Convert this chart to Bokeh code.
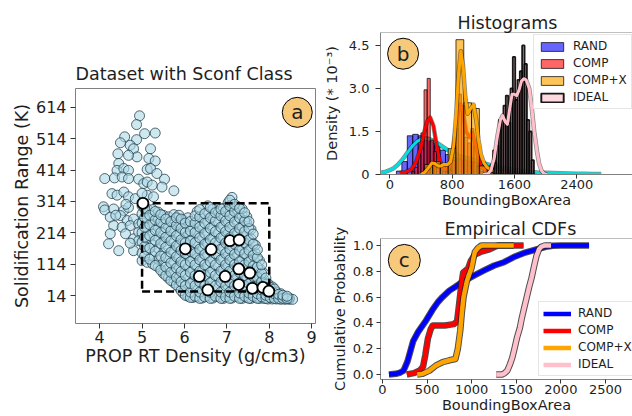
from bokeh.plotting import figure
from bokeh.layouts import row, column
from bokeh.models import FixedTicker, Legend, LegendItem, Span, PrintfTickFormatter
from bokeh.core.properties import value
from bokeh.embed import file_html
from bokeh.resources import INLINE

FONT = "DejaVu Sans"
TXT = "#1e1e1e"

# ---------------- Panel a data ----------------
left_x = [4.94, 4.87, 5.06, 5.31, 4.59, 4.87, 4.49, 4.72, 4.80, 4.43, 5.20, 4.88, 4.68, 5.16, 5.31,
          4.45, 4.41, 4.57, 4.68, 5.12, 5.20, 5.35, 4.12, 4.35, 4.53, 4.68, 4.92, 5.04, 5.12, 5.24,
          5.53, 5.75, 5.47, 4.29, 4.41, 4.57, 4.68, 4.84, 5.12, 5.27, 4.09, 4.12, 4.33, 4.57, 4.68,
          4.25, 4.49, 4.65, 4.80, 4.33, 4.53, 4.72, 4.92, 4.25, 4.61, 4.80, 4.92, 4.21, 4.45, 4.80,
          4.92, 4.72, 5.00, 4.62, 4.38]
left_y = [587, 559, 530, 532, 520, 511, 501, 493, 482, 466, 482, 456, 461, 451, 443,
          435, 413, 419, 413, 416, 419, 403, 387, 389, 392, 387, 385, 371, 376, 366,
          385, 348, 360, 339, 334, 344, 329, 323, 334, 329, 297, 287, 290, 285, 295,
          264, 269, 253, 258, 237, 232, 237, 242, 211, 211, 195, 216, 179, 157, 157,
          189, 181, 340, 305, 270]

col_x = [5.00, 5.12, 5.25, 5.38, 5.50, 5.62, 5.75, 5.87, 5.97, 6.08, 6.20, 6.30, 6.42, 6.55,
         6.67, 6.80, 6.92, 7.03, 7.12, 7.25, 7.36, 7.47, 7.57, 7.67, 7.77, 7.87, 7.97, 8.07,
         8.17, 8.27, 8.37, 8.47, 8.55]
col_ys = [
    [125, 150, 185, 215, 245, 275, 300],
    [120, 160, 195, 230, 262, 290],
    [115, 140, 175, 210, 240, 270, 288],
    [105, 130, 165, 200, 232, 260, 280],
    [85, 120, 150, 185, 215, 245, 270],
    [70, 100, 135, 170, 205, 235, 265],
    [55, 85, 120, 155, 190, 225, 255, 272],
    [40, 70, 105, 140, 175, 210, 245, 270],
    [22, 50, 85, 120, 155, 190, 225, 255],
    [12, 38, 70, 105, 140, 175, 205, 235, 262],
    [8, 30, 60, 95, 130, 160, 195, 230],
    [10, 42, 75, 110, 145, 180, 215, 250, 282],
    [6, 28, 58, 92, 125, 160, 195, 230, 262],
    [12, 40, 72, 108, 142, 178, 212, 248, 280, 300],
    [6, 30, 62, 95, 130, 165, 200, 235, 265, 290],
    [10, 42, 75, 110, 145, 180, 215, 250, 282],
    [5, 30, 62, 95, 130, 165, 200, 235, 268, 292],
    [12, 42, 75, 110, 145, 180, 215, 250, 285, 310],
    [6, 28, 60, 92, 125, 160, 195, 230, 265, 300, 327],
    [10, 40, 72, 105, 140, 175, 210, 245, 278, 298],
    [5, 30, 60, 95, 130, 165, 200, 235, 268, 290],
    [8, 38, 70, 105, 140, 175, 210, 245, 265],
    [5, 28, 58, 90, 125, 160, 195, 225],
    [8, 32, 60, 90, 120, 150, 175],
    [5, 25, 50, 75, 100, 125],
    [5, 22, 42, 65, 85],
    [3, 18, 35, 52],
    [3, 15, 30, 42],
    [3, 12, 25],
    [2, 10, 20],
    [2, 8],
    [2, 6],
    [2],
]
col2_x = [5.06, 5.18, 5.31, 5.44, 5.56, 5.68, 5.81, 5.92, 6.02, 6.14, 6.25, 6.36, 6.48, 6.61, 6.73,
          6.86, 6.97, 7.07, 7.18, 7.30, 7.42, 7.52, 7.62, 7.72, 7.82, 7.92, 8.02, 8.12, 8.22, 8.32,
          8.42]
col2_ys = [
    [140, 170, 200, 232, 262, 292],
    [130, 165, 205, 240, 270],
    [110, 155, 190, 222, 255, 282],
    [95, 140, 180, 215, 248, 272],
    [78, 105, 135, 168, 200, 230, 258],
    [62, 88, 118, 152, 188, 220, 250],
    [48, 72, 102, 138, 172, 205, 238, 262],
    [30, 58, 90, 122, 158, 192, 228, 258],
    [15, 45, 78, 112, 148, 182, 215, 245],
    [8, 25, 52, 88, 122, 155, 188, 220, 250],
    [12, 45, 78, 112, 148, 182, 215, 245, 268],
    [5, 25, 58, 92, 128, 162, 198, 232, 265, 288],
    [10, 45, 78, 112, 145, 178, 212, 245, 275],
    [5, 25, 55, 88, 122, 158, 192, 228, 262, 295],
    [12, 45, 78, 112, 148, 182, 218, 252, 278],
    [5, 25, 58, 92, 128, 162, 198, 232, 268, 290],
    [10, 45, 78, 112, 148, 182, 218, 252, 282],
    [5, 25, 58, 92, 128, 162, 198, 232, 268, 300, 318],
    [12, 45, 78, 112, 145, 178, 212, 248, 282, 305],
    [5, 22, 55, 88, 122, 158, 192, 228, 262, 292],
    [12, 45, 78, 112, 148, 182, 218, 252, 278],
    [5, 22, 52, 88, 122, 158, 192, 228, 250],
    [12, 42, 75, 108, 142, 178, 210],
    [5, 20, 45, 72, 105, 135, 160],
    [10, 32, 58, 85, 112],
    [5, 15, 30, 50, 70],
    [8, 25, 40],
    [5, 20, 35],
    [5, 18],
    [5, 15],
    [4, 12],
]
sconf_x = [5.02, 6.02, 6.63, 7.07, 7.29, 6.35, 6.96, 7.28, 7.54, 7.28, 6.55, 7.60, 7.85, 7.99]
sconf_y = [308, 163, 161, 189, 191, 75, 75, 99, 86, 49, 32, 37, 40, 28]
box_x = [5.0, 8.0]
box_y = [27, 308]
a_xticks = [4, 5, 6, 7, 8, 9]
a_yticks = [14, 114, 214, 314, 414, 514, 614]

# ---------------- Panel b data ----------------
rand_left = [85 + 70 * i for i in range(32)]
rand_w = 70
rand_h = [0.12, 0.45, 1.35, 1.40, 1.35, 1.30, 1.15, 1.00, 0.85, 0.70, 0.60, 0.55, 0.50, 0.45, 0.42, 0.38,
          0.34, 0.30, 0.28, 0.25, 0.22, 0.18, 0.14, 0.10, 0.07, 0.05, 0.03, 0.02, 0.02, 0.01, 0.01, 0.01]
comp_left = [280, 320, 360, 400, 440, 480, 520, 560, 600, 640, 680, 720, 760, 800, 840, 880, 920, 960,
             1000, 1040, 1080, 1120, 1160, 1280, 1320, 1360, 1480, 1520]
comp_w = 40
comp_h = [0.10, 0.25, 0.70, 1.45, 2.95, 3.35, 1.20, 0.80, 0.35, 0.15, 0.10, 0.10, 0.15, 0.50, 1.60, 2.80,
          2.40, 1.30, 1.10, 1.60, 1.00, 0.30, 0.10, 0.10, 0.85, 0.10, 0.10, 0.10]
compx_left = [450, 550, 650, 750, 850, 950, 1050, 1150, 1250, 1350, 1450]
compx_w = 100
compx_h = [0.35, 0.45, 0.35, 0.90, 4.70, 2.50, 2.30, 0.30, 0.05, 0.05, 0.05]
ideal_left = [1340, 1370, 1400, 1430, 1460, 1490, 1520, 1550, 1580, 1610, 1640, 1670, 1700, 1730, 1760,
              1790, 1820]
ideal_w = 30
ideal_h = [0.40, 1.00, 1.90, 2.00, 2.40, 2.75, 1.80, 3.00, 4.10, 2.60, 3.30, 3.60, 4.50, 3.85, 1.90,
           1.50, 0.50]

rand_kx = [-119, -50, 0, 50, 100, 150, 200, 250, 300, 350, 400, 450, 500, 550, 600, 650, 700, 750, 800,
           900, 1000, 1100, 1200, 1300, 1400, 1500, 1600, 1700, 1800, 1900, 2000, 2100, 2200, 2300,
           2400, 2500, 2600, 2714]
rand_ky = [0.06, 0.10, 0.15, 0.22, 0.33, 0.48, 0.66, 0.85, 1.02, 1.15, 1.23, 1.26, 1.24, 1.19, 1.11,
           1.02, 0.93, 0.84, 0.76, 0.64, 0.57, 0.50, 0.40, 0.32, 0.26, 0.20, 0.16, 0.12, 0.09, 0.07,
           0.06, 0.05, 0.04, 0.035, 0.03, 0.025, 0.02, 0.02]
comp_kx = [130, 200, 280, 340, 400, 440, 480, 520, 560, 600, 640, 680, 720, 760, 800, 840, 880, 910,
           940, 980, 1020, 1060, 1100, 1140, 1180, 1240, 1300, 1340, 1380, 1440, 1500, 1560, 1620, 1700]
comp_ky = [0.05, 0.08, 0.18, 0.45, 0.95, 1.45, 1.85, 1.98, 1.70, 1.05, 0.50, 0.25, 0.18, 0.25, 0.60,
           1.40, 2.20, 2.45, 2.20, 1.50, 1.30, 1.45, 1.10, 0.55, 0.25, 0.15, 0.28, 0.32, 0.22, 0.10,
           0.10, 0.08, 0.03, 0.0]
compx_kx = [400, 450, 500, 540, 580, 620, 660, 700, 740, 780, 820, 850, 880, 913, 940, 970, 1000, 1040,
            1075, 1110, 1140, 1170, 1210, 1250, 1300, 1350, 1400, 1460, 1520]
compx_ky = [0.0, 0.08, 0.25, 0.40, 0.38, 0.30, 0.30, 0.36, 0.34, 0.45, 1.0, 2.0, 3.4, 4.3, 3.8, 2.7,
            2.12, 2.3, 2.44, 1.9, 1.2, 0.7, 0.4, 0.25, 0.15, 0.12, 0.08, 0.05, 0.0]
ideal_kx = [1200, 1260, 1300, 1340, 1380, 1420, 1450, 1480, 1510, 1540, 1570, 1600, 1630, 1660, 1690,
            1720, 1750, 1790, 1820, 1854, 1890, 1918, 1950, 1985, 2020]
ideal_ky = [0.0, 0.03, 0.15, 0.55, 1.30, 1.90, 2.05, 1.85, 1.75, 2.30, 2.80, 2.80, 2.75, 2.95, 3.25,
            3.34, 3.30, 3.00, 2.40, 1.50, 0.80, 0.37, 0.12, 0.02, 0.0]
b_xticks = [0, 800, 1600, 2400]
b_yticks = [0, 1.5, 3.0, 4.5]

# ---------------- Panel c data ----------------
rand_cx = [73, 150, 200, 237, 280, 345, 400, 490, 560, 620, 673, 750, 818, 900, 1036, 1150, 1254, 1363,
           1472, 1600, 1727, 1830, 1909, 2000, 2316]
rand_cy = [0.0, 0.005, 0.015, 0.03, 0.10, 0.26, 0.33, 0.42, 0.50, 0.56, 0.60, 0.65, 0.68, 0.72, 0.77,
           0.81, 0.845, 0.87, 0.91, 0.945, 0.97, 0.99, 0.998, 1.0, 1.0]
comp_cx = [273, 350, 418, 455, 480, 510, 540, 564, 700, 800, 836, 860, 885, 905, 940, 960, 990, 1036,
           1100, 1200, 1260, 1300, 1581]
comp_cy = [0.0, 0.01, 0.03, 0.06, 0.15, 0.28, 0.35, 0.38, 0.38, 0.39, 0.41, 0.55, 0.70, 0.79, 0.81,
           0.82, 0.88, 0.93, 0.95, 0.97, 0.99, 1.0, 1.0]
compx_cx = [389, 450, 527, 600, 673, 750, 818, 845, 872, 890, 909, 945, 975, 1000, 1020, 1036, 1070,
            1109, 1472]
compx_cy = [0.0, 0.005, 0.03, 0.07, 0.095, 0.11, 0.12, 0.20, 0.34, 0.48, 0.60, 0.72, 0.78, 0.83, 0.90,
            0.95, 0.98, 1.0, 1.0]
ideal_cx = [1275, 1340, 1370, 1400, 1430, 1455, 1480, 1510, 1540, 1563, 1590, 1618, 1645, 1672, 1700,
            1727, 1755, 1781, 1820, 1890]
ideal_cy = [0.0, 0.0, 0.01, 0.03, 0.08, 0.13, 0.20, 0.29, 0.36, 0.44, 0.52, 0.60, 0.68, 0.75, 0.84,
            0.92, 0.97, 0.99, 1.0, 1.0]
c_xticks = [0, 500, 1000, 1500, 2000, 2500]
c_yticks = [0.0, 0.2, 0.4, 0.6, 0.8, 1.0]

BADGE = "#f6c97b"


def style(p, tick_fs, label_fs, tick_out, standoff):
    p.grid.visible = False
    p.background_fill_color = "white"
    p.border_fill_color = "white"
    for ax in p.axis:
        ax.axis_line_color = None
        ax.major_tick_in = 0
        ax.major_tick_out = tick_out
        ax.minor_tick_line_color = None
        ax.major_tick_line_color = "#333333"
        ax.major_label_text_font = FONT
        ax.major_label_text_font_size = tick_fs
        ax.major_label_text_color = TXT
        ax.major_label_standoff = standoff
        ax.axis_label_text_font = FONT
        ax.axis_label_text_font_size = label_fs
        ax.axis_label_text_font_style = "normal"
        ax.axis_label_text_color = TXT
    p.title.text_font = FONT
    p.title.text_font_size = "17.5px"
    p.title.text_font_style = "normal"
    p.title.text_color = TXT
    p.title.align = "left"


# ================= Panel a =================
pa = figure(width=320, height=416, x_range=(3.43, 9.09), y_range=(-75, 674),
            output_backend="svg", toolbar_location=None, title="Dataset with Sconf Class",
            min_border_left=75, min_border_right=5, min_border_top=88, min_border_bottom=93)
style(pa, "16px", "17.5px", 5, 4)
pa.title.standoff = 10
pa.title.offset = 0
pa.outline_line_color = "#808080"
pa.xaxis.ticker = FixedTicker(ticks=a_xticks)
pa.yaxis.ticker = FixedTicker(ticks=a_yticks)
pa.xaxis.major_label_standoff = 2
pa.xaxis.axis_label = "PROP RT Density (g/cm3)"
pa.xaxis.axis_label_standoff = 0
pa.yaxis.axis_label = "Solidification Range (K)"
pa.yaxis.axis_label_standoff = 1

xs, ys = list(left_x), list(left_y)
for cx, cys in list(zip(col_x, col_ys)) + list(zip(col2_x, col2_ys)):
    for yy in cys:
        xs.append(cx)
        ys.append(yy)
pa.scatter(xs, ys, size=10, marker="circle", fill_color="#add8e6", fill_alpha=0.6,
           line_color="#1d3a48", line_alpha=0.75, line_width=1)
pa.line([box_x[0], box_x[1], box_x[1], box_x[0], box_x[0]],
        [box_y[0], box_y[0], box_y[1], box_y[1], box_y[0]],
        line_color="black", line_width=2.5, line_dash="8 4")
pa.scatter(sconf_x, sconf_y, size=11, marker="circle", fill_color="white",
           line_color="black", line_width=1.8)
pa.scatter([8.66], [598], size=30, marker="circle", fill_color=BADGE, line_color="black", line_width=1)
pa.text([8.66], [598], text=["a"], text_font=value(FONT), text_font_size="20px",
        text_align="center", text_baseline="middle", text_color=TXT)

# ================= Panel b =================
pb = figure(width=312, height=212, x_range=(-119, 3116), y_range=(0, 4.95),
            output_backend="svg", toolbar_location=None, title="Histograms",
            min_border_left=59, min_border_right=0, min_border_top=32, min_border_bottom=38)
style(pb, "13px", "14.5px", 4, 1)
pb.title.standoff = 0
pb.title.offset = 77
pb.outline_line_color = None
pb.xaxis.axis_line_color = "#808080"
pb.yaxis.axis_line_color = "#808080"
pb.add_layout(Span(location=4.95, dimension="width", line_color="#808080", line_width=1))
pb.xaxis.ticker = FixedTicker(ticks=b_xticks)
pb.yaxis.ticker = FixedTicker(ticks=b_yticks)
pb.yaxis.formatter = PrintfTickFormatter(format="%.1f")
pb.yaxis.major_label_standoff = 6
pb.yaxis.major_tick_out = 5
pb.yaxis.major_label_overrides = {0: "0"}
pb.yaxis.axis_label = "Density (* 10\u207b\u00b3)"
pb.yaxis.axis_label_standoff = 6
pb.xaxis.axis_label = "BoundingBoxArea"
pb.xaxis.axis_label_standoff = 0


def hist(p, left, w, h, color, alpha, lw=0.8):
    return p.quad(left=left, right=[l + w for l in left], top=h, bottom=0, fill_color=color,
                  fill_alpha=alpha, line_color="black", line_width=lw, line_alpha=0.9)


def kde(p, x, y, color):
    p.line(x, y, line_color="black", line_width=4.5, line_alpha=0.45, line_join="round")
    p.line(x, y, line_color=color, line_width=3, line_join="round")


r_rand = hist(pb, rand_left, rand_w, rand_h, "blue", 0.6)
kde(pb, rand_kx, rand_ky, "#00dede")
r_comp = hist(pb, comp_left, comp_w, comp_h, "red", 0.6)
kde(pb, comp_kx, comp_ky, "red")
r_compx = hist(pb, compx_left, compx_w, compx_h, "orange", 0.65)
kde(pb, compx_kx, compx_ky, "orange")
r_ideal = hist(pb, ideal_left, ideal_w, ideal_h, "pink", 0.6, lw=1.9)
kde(pb, ideal_kx, ideal_ky, "pink")

pb.scatter([171], [4.21], size=31, marker="circle", fill_color=BADGE, line_color="black", line_width=1)
pb.text([171], [4.21], text=["b"], text_font=value(FONT), text_font_size="20px",
        text_align="center", text_baseline="middle", text_color=TXT)
leg_b = Legend(items=[LegendItem(label="RAND", renderers=[r_rand]),
                      LegendItem(label="COMP", renderers=[r_comp]),
                      LegendItem(label="COMP+X", renderers=[r_compx]),
                      LegendItem(label="IDEAL", renderers=[r_ideal])],
               location=(153, 65), label_text_font=FONT, label_text_font_size="12px",
               label_text_color=TXT, glyph_width=28, glyph_height=11, label_height=13,
               label_standoff=7, spacing=3, padding=4, margin=0,
               border_line_color="#cccccc", background_fill_alpha=0.85)
pb.add_layout(leg_b)

# ================= Panel c =================
pc = figure(width=312, height=204, x_range=(-22, 2803), y_range=(-0.039, 1.054),
            output_backend="svg", toolbar_location=None, title="Empirical CDFs",
            min_border_left=53, min_border_right=0, min_border_top=26, min_border_bottom=37)
style(pc, "13px", "14.5px", 4, 1)
pc.title.standoff = 0
pc.title.offset = 64
pc.outline_line_color = None
pc.xaxis.axis_line_color = "#808080"
pc.yaxis.axis_line_color = "#808080"
pc.add_layout(Span(location=1.054, dimension="width", line_color="#808080", line_width=1))
pc.xaxis.ticker = FixedTicker(ticks=c_xticks)
pc.yaxis.ticker = FixedTicker(ticks=c_yticks)
pc.yaxis.formatter = PrintfTickFormatter(format="%.1f")
pc.yaxis.major_label_standoff = 3
pc.yaxis.axis_label = "Cumulative Probability"
pc.yaxis.axis_label_standoff = 2
pc.xaxis.axis_label = "BoundingBoxArea"
pc.xaxis.axis_label_standoff = 0


def cdf(p, x, y, color):
    p.line(x, y, line_color="#222222", line_width=6.5, line_alpha=0.8, line_join="round")
    return p.line(x, y, line_color=color, line_width=4.5, line_join="round")


c_rand = cdf(pc, rand_cx, rand_cy, "blue")
c_comp = cdf(pc, comp_cx, comp_cy, "red")
c_compx = cdf(pc, compx_cx, compx_cy, "orange")
c_ideal = cdf(pc, ideal_cx, ideal_cy, "pink")

pc.scatter([245], [0.884], size=32, marker="circle", fill_color=BADGE, line_color="black", line_width=1)
pc.text([245], [0.884], text=["c"], text_font=value(FONT), text_font_size="20px",
        text_align="center", text_baseline="middle", text_color=TXT)
leg_c = Legend(items=[LegendItem(label="RAND", renderers=[c_rand]),
                      LegendItem(label="COMP", renderers=[c_comp]),
                      LegendItem(label="COMP+X", renderers=[c_compx]),
                      LegendItem(label="IDEAL", renderers=[c_ideal])],
               location=(158, 3), label_text_font=FONT, label_text_font_size="12px",
               label_text_color=TXT, glyph_width=28, glyph_height=13, label_height=13,
               label_standoff=7, spacing=3, padding=4, margin=0,
               border_line_color="#cccccc", background_fill_alpha=0.85)
pc.add_layout(leg_c)

layout = row(pa, column(pb, pc))
open("out.html", "w").write(file_html(layout, INLINE))
